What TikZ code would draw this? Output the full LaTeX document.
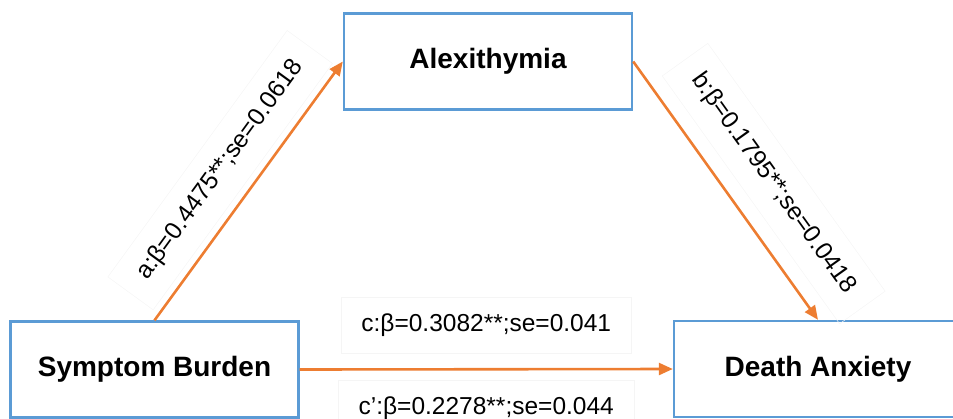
\documentclass[tikz,border=0pt]{standalone}
\usepackage{fontspec}
\setmainfont{Liberation Sans}
\usetikzlibrary{arrows.meta}
\definecolor{boxblue}{RGB}{91,155,213}
\definecolor{effectorange}{RGB}{237,125,49}
\tikzset{
  var/.style={draw=boxblue,line width=2.4pt,minimum width=288pt,minimum height=96pt,
    font=\fontsize{28}{32}\selectfont\bfseries},
  effect/.style={draw=effectorange,line width=2.6pt,-{Triangle[length=14pt,width=12pt]}},
  coef/.style={draw=black!4,line width=.5pt,inner xsep=20pt,minimum height=56pt,
    font=\fontsize{24.5}{28}\selectfont}
}
\begin{document}
\begin{tikzpicture}[x=1pt,y=-1pt]
  \path[use as bounding box,clip] (0,0) rectangle (953,418);
  \node[var] (alex) at (488,61.5) {Alexithymia};
  \node[var] (symp) at (154.5,369.5) {Symptom Burden};
  \node[var] (death) at (818,369) {Death Anxiety};
  \draw[effect] (symp.north) -- (alex.west)
    node[coef,midway,sloped,above=7pt] (pa) {a:β=0.4475**;se=0.0618};
  \draw[effect] (alex.east) -- (death.north)
    node[coef,pos=.57,sloped,above=15pt] (pb) {b:β=0.1795**;se=0.0418};
  \draw[effect] (symp.east) -- (death.west)
    node[coef,midway,above=16pt] (pc) {c:β=0.3082**;se=0.041}
    node[coef,midway,below=11pt] (pcp) {c’:β=0.2278**;se=0.044};
\end{tikzpicture}
\end{document}
